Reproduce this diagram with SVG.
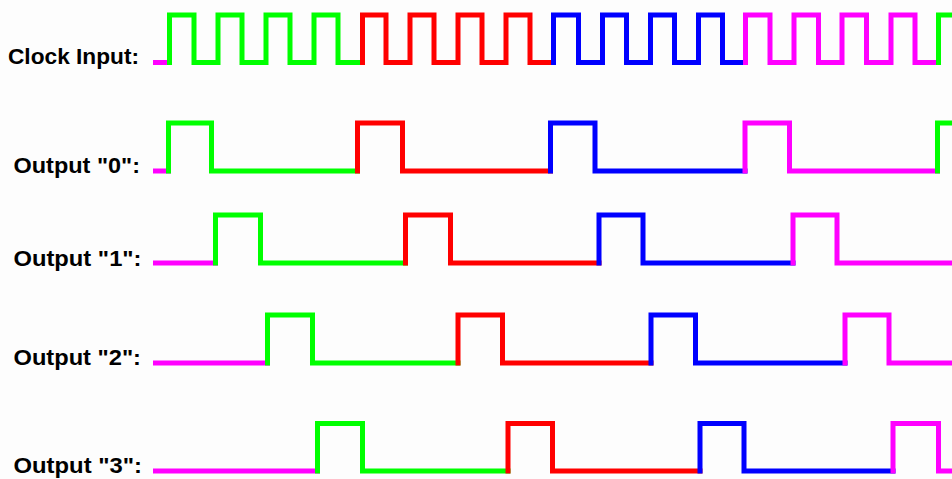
<svg xmlns="http://www.w3.org/2000/svg" width="952" height="479" viewBox="0 0 952 479">
<style>
.lbl{font-family:"Liberation Sans",Arial,sans-serif;font-weight:bold;font-size:22px;fill:#000}
.w{fill:none;stroke-width:5;stroke-linecap:square;stroke-linejoin:miter}
.g{stroke:#00ff00}.r{stroke:#ff0000}.b{stroke:#0000ff}.m{stroke:#ff00ff}
</style>
<rect width="952" height="479" fill="#fdfdfd"/>
<g id="clock">
<text class="lbl" x="8" y="64" textLength="131" lengthAdjust="spacingAndGlyphs">Clock Input:</text>
<path class="w m" d="M155.5,62.5 H169.5"/>
<path class="w g" d="M169.5,62.5 V15 H194 V62.5 H218 V15 H242 V62.5 H266 V15 H290 V62.5 H314 V15 H338 V62.5 H362.5"/>
<path class="w r" d="M362.5,62.5 V15 H386 V62.5 H410 V15 H434 V62.5 H458 V15 H482 V62.5 H506 V15 H530 V62.5 H553.5"/>
<path class="w b" d="M553.5,62.5 V15 H578.5 V62.5 H602.5 V15 H626.5 V62.5 H650.5 V15 H674.5 V62.5 H698.5 V15 H722.5 V62.5 H745.5"/>
<path class="w m" d="M745.5,62.5 V15 H770 V62.5 H794 V15 H818.5 V62.5 H842 V15 H866.5 V62.5 H891 V15 H915 V62.5 H938.5"/>
<path class="w g" d="M938.5,62.5 V15 H955"/>
</g>
<g id="output0">
<text class="lbl" x="13.5" y="173" textLength="126.5" lengthAdjust="spacingAndGlyphs">Output "0":</text>
<path class="w m" d="M155.5,171 H168.5"/>
<path class="w g" d="M168.5,171 V123 H211.5 V171 H357.5"/>
<path class="w r" d="M357.5,171 V123 H402.5 V171 H550.5"/>
<path class="w b" d="M550.5,171 V123 H595 V171 H745"/>
<path class="w m" d="M745,171 V123 H789.5 V171 H937.5"/>
<path class="w g" d="M937.5,171 V123 H955"/>
</g>
<g id="output1">
<text class="lbl" x="13.5" y="265.5" textLength="128" lengthAdjust="spacingAndGlyphs">Output "1":</text>
<path class="w m" d="M155.5,263 H215.5"/>
<path class="w g" d="M215.5,263 V215 H260.5 V263 H405.5"/>
<path class="w r" d="M405.5,263 V215 H450.5 V263 H599"/>
<path class="w b" d="M599,263 V215 H643 V263 H793"/>
<path class="w m" d="M793,263 V215 H837 V263 H955"/>
</g>
<g id="output2">
<text class="lbl" x="13.5" y="364.5" textLength="127.5" lengthAdjust="spacingAndGlyphs">Output "2":</text>
<path class="w m" d="M155.5,363 H267.5"/>
<path class="w g" d="M267.5,363 V315 H312.5 V363 H458"/>
<path class="w r" d="M458,363 V315 H502.5 V363 H651"/>
<path class="w b" d="M651,363 V315 H695.5 V363 H845"/>
<path class="w m" d="M845,363 V315 H889 V363 H955"/>
</g>
<g id="output3">
<text class="lbl" x="13.5" y="472.5" textLength="128.5" lengthAdjust="spacingAndGlyphs">Output "3":</text>
<path class="w m" d="M155.5,471 H317.5"/>
<path class="w g" d="M317.5,471 V423.5 H362.5 V471 H508"/>
<path class="w r" d="M508,471 V423.5 H552.5 V471 H700"/>
<path class="w b" d="M700,471 V423.5 H744 V471 H893"/>
<path class="w m" d="M893,471 V423.5 H938.5 V471 H955"/>
</g>
<g id="connectors"/>
</svg>
